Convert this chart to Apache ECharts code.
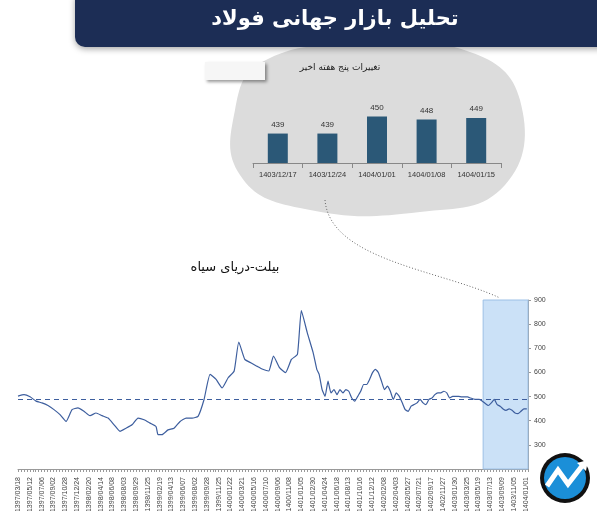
<!DOCTYPE html>
<html><head><meta charset="utf-8">
<script src="https://cdn.jsdelivr.net/npm/echarts@6/dist/echarts.min.js"></script>
<style>html,body{margin:0;background:#fff}#c{width:597px;height:511px}</style>
</head><body><div id="c"></div>
<script>
// قیمت بیلت دریای سیاه - برچسب‌های محور افقی
const dateLabels = ['1397/03/18','1397/05/12','1397/07/06','1397/09/02','1397/10/28','1397/12/24',
  '1398/02/20','1398/04/14','1398/06/08','1398/08/03','1398/09/29','1398/11/25',
  '1399/02/19','1399/04/13','1399/06/07','1399/08/02','1399/09/28','1399/11/25',
  '1400/01/22','1400/03/21','1400/05/16','1400/07/10','1400/09/06','1400/11/08',
  '1401/01/05','1401/02/30','1401/04/24','1401/06/18','1401/08/13','1401/10/16','1401/12/12',
  '1402/02/08','1402/04/03','1402/05/27','1402/07/21','1402/09/17','1402/11/27',
  '1403/01/30','1403/03/25','1403/05/19','1403/07/13','1403/09/09','1403/11/05','1404/01/01'];

// موقعیت نقاط بر حسب شماره برچسب
const priceX = [0,.51,1.02,1.53,2.03,2.54,3.05,3.56,4.07,4.58,5.08,5.59,6.1,6.61,7.12,7.63,8.14,8.64,9.15,9.66,
  10.17,10.68,11.19,11.69,11.86,12.2,12.71,13.22,13.73,14.24,14.75,15.25,15.76,16.27,16.78,17.29,17.8,18.31,18.7,
  19.21,19.72,20.23,20.73,21.24,21.64,22.15,22.66,23.16,23.67,24.0,
  24.5,25.0,25.31,25.51,25.76,26.01,26.26,26.51,26.77,27.02,27.27,27.52,27.77,28.02,28.27,28.53,28.78,29.03,29.28,
  29.53,29.78,30.03,30.28,30.53,30.79,31.04,31.29,31.54,31.79,32.04,32.3,32.55,32.8,33.05,33.3,33.55,33.8,34.06,
  34.31,34.56,34.81,35.06,35.31,35.56,35.82,36.07,36.32,36.57,36.82,37.07,37.32,37.58,37.83,38.08,38.33,38.58,
  38.83,39.08,39.34,39.59,39.84,40.09,40.34,40.59,40.84,41.09,41.34,41.6,41.85,42.1,42.35,42.6,42.85,43.1];
const priceY = [502,508,499,481,474,463,446,425,397,446,453,439,421,432,421,411,383,356,369,383,
  411,404,390,376,342,342,362,369,397,411,411,418,488,592,571,536,578,606,726,
  654,640,626,613,606,668,620,599,654,675,856,
  765,682,613,592,529,501,564,515,529,508,529,515,529,522,494,481,501,522,550,
  550,571,599,613,599,564,529,543,522,488,515,501,474,446,439,460,467,474,488,
  474,467,488,494,508,515,515,522,515,494,501,501,501,499,499,499,494,490,
  488,488,481,471,463,474,488,467,460,449,443,449,443,432,429,439,449,449];
const avgPrice = 490;

// تغییرات پنج هفته اخیر
const weekLabels = ['1403/12/17','1403/12/24','1404/01/01','1404/01/08','1404/01/15'];
const weekValues = [439,439,450,448,449];

const chart = echarts.init(document.getElementById('c'));

chart.setOption({
  animation: false,
  graphic: [
    { type: 'rect', shape: { x: 75, y: -10, width: 540, height: 57, r: 10 },
      style: { fill: '#1c2d55', shadowBlur: 6, shadowColor: 'rgba(0,0,0,0.35)', shadowOffsetY: 2 } },
    { type: 'text', x: 335, y: 20, style: { text: 'تحلیل بازار جهانی فولاد', fill: '#fff',
      font: 'bold 21px "DejaVu Sans"', textAlign: 'center', textVerticalAlign: 'middle' } },
    { type: 'polygon', z: -1, shape: { smooth: 0.45,
      points: [[262, 62], [360, 44], [470, 52], [520, 100], [505, 185], [420, 212], [300, 208], [240, 175], [235, 110]] },
      style: { fill: '#dcdcdc' } },
    { type: 'rect', shape: { x: 205, y: 62, width: 60, height: 18 },
      style: { fill: '#f6f6f6', shadowBlur: 3, shadowColor: 'rgba(0,0,0,0.4)', shadowOffsetX: 2, shadowOffsetY: 2 } },
    { type: 'text', x: 340, y: 68, style: { text: 'تغییرات پنج هفته اخیر', fill: '#222',
      font: '9px "DejaVu Sans"', textAlign: 'center', textVerticalAlign: 'middle' } },
    { type: 'bezierCurve', shape: { x1: 325, y1: 200, x2: 500, y2: 298, cpx1: 330, cpy1: 260, cpx2: 440, cpy2: 270 },
      style: { stroke: '#666', lineWidth: 1, lineDash: [1, 2], fill: null } },
    { type: 'text', x: 235, y: 268, style: { text: 'بیلت-دریای سیاه', fill: '#111',
      font: '13px "DejaVu Sans"', textAlign: 'center', textVerticalAlign: 'middle' } },
    { type: 'circle', z: 100, shape: { cx: 565, cy: 478, r: 25 }, style: { fill: '#111' } },
    { type: 'circle', z: 100, shape: { cx: 565, cy: 478, r: 21 }, style: { fill: '#1b8fd8' } },
    { type: 'polyline', z: 101, shape: { points: [[547, 486], [558, 470], [568, 484], [582, 466]] },
      style: { stroke: '#fff', lineWidth: 5, fill: null } },
    { type: 'polygon', z: 101, shape: { points: [[577, 463], [588, 460], [586, 471]] }, style: { fill: '#fff' } }
  ],
  grid: [
    { left: 18, right: 69, top: 300, bottom: 42, outerBoundsMode: 'none' },
    { left: 253, right: 96, top: 101, bottom: 348, outerBoundsMode: 'none' }
  ],
  xAxis: [
    { type: 'value', gridIndex: 0, min: 0, max: 43.2, interval: 1,
      axisLine: { onZero: false, lineStyle: { color: '#999' } },
      axisTick: { show: true, length: 3, lineStyle: { color: '#999' } },
      minorTick: { show: true, splitNumber: 4, length: 3, lineStyle: { color: '#999' } },
      splitLine: { show: false },
      axisLabel: { rotate: 90, fontSize: 7, color: '#444', fontFamily: 'Liberation Sans',
        showMaxLabel: false, formatter: v => dateLabels[Math.round(v)] || '' } },
    { type: 'category', gridIndex: 1, data: weekLabels,
      axisLine: { lineStyle: { color: '#888' } },
      axisTick: { show: true, lineStyle: { color: '#888' } },
      axisLabel: { interval: 0, hideOverlap: false, fontSize: 7.5, color: '#333', fontFamily: 'Liberation Sans' } }
  ],
  yAxis: [
    { type: 'value', gridIndex: 0, position: 'right', min: 200, max: 900, interval: 100,
      axisLine: { show: true, onZero: false, lineStyle: { color: '#999' } },
      axisTick: { show: true, inside: false, length: 3 },
      splitLine: { show: false },
      axisLabel: { fontSize: 7, color: '#444', margin: 6, showMinLabel: false, fontFamily: 'Liberation Sans' } },
    { type: 'value', gridIndex: 1, min: 420, max: 460, show: false }
  ],
  series: [
    { type: 'line', xAxisIndex: 0, yAxisIndex: 0, showSymbol: false, smooth: 0.15,
      data: priceX.map((x, i) => [x, priceY[i]]),
      lineStyle: { color: '#3d5e9e', width: 1.2 },
      markLine: { silent: true, symbol: 'none', label: { show: false },
        lineStyle: { color: '#3d5e9e', type: [5, 4], width: 1 }, data: [{ yAxis: avgPrice }] },
      markArea: { silent: true, itemStyle: { color: 'rgba(160,200,240,0.55)', borderColor: '#9cc0e6', borderWidth: 1 },
        data: [[{ xAxis: 39.4, yAxis: 900 }, { xAxis: 43.2, yAxis: 200 }]] } },
    { type: 'bar', xAxisIndex: 1, yAxisIndex: 1, data: weekValues, barWidth: 20,
      itemStyle: { color: '#2b5877' },
      label: { show: true, position: 'top', fontSize: 8, color: '#333', fontFamily: 'Liberation Sans' } }
  ]
});
</script></body></html>
